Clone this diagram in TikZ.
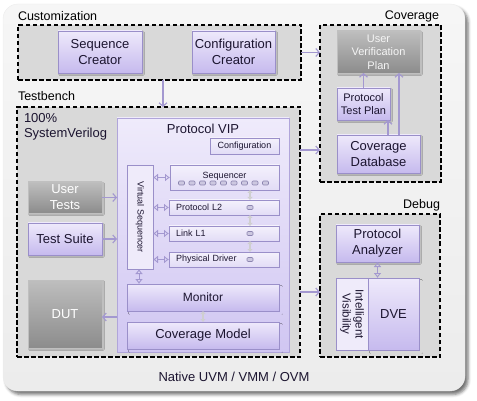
\documentclass[tikz,border=0pt]{standalone}
\usepackage{fontspec}
\setmainfont{Liberation Sans}
\usetikzlibrary{arrows.meta,shadows.blur,calc}
\definecolor{lavtop}{HTML}{EEE9FB}
\definecolor{lavbot}{HTML}{C6BAEE}
\definecolor{lavline}{HTML}{9A8FC9}
\definecolor{laytop}{HTML}{F4F1FC}
\definecolor{laybot}{HTML}{E2DCF6}
\definecolor{viptop}{HTML}{EFEBFB}
\definecolor{vipbot}{HTML}{D0C6F2}
\definecolor{vipline}{HTML}{B0A5DA}
\definecolor{arrcol}{HTML}{A398D0}
\definecolor{dashfill}{HTML}{D9D9D9}
\definecolor{outtop}{HTML}{F6F6F6}
\definecolor{outbot}{HTML}{ECECEC}
\definecolor{graytop}{HTML}{BEBEBE}
\definecolor{graybot}{HTML}{8C8C8C}
\definecolor{txt}{HTML}{1C1530}
\definecolor{sqfill}{HTML}{CCC7E0}
\definecolor{sqline}{HTML}{8C85B0}
\definecolor{litecol}{HTML}{CFCFCF}
\tikzset{
  bx/.style={inner sep=0pt, outer sep=0pt, text=txt},
  dashbox/.style={bx, draw=black, line width=1.6pt, dash pattern=on 4.5pt off 2.5pt, fill=dashfill},
  lavbox/.style={bx, draw=lavline, line width=0.8pt, top color=lavtop, bottom color=lavbot, align=center,
    font=\fontsize{13}{16}\selectfont,
    blur shadow={shadow xshift=1.2pt, shadow yshift=-1.2pt, shadow opacity=25, shadow blur radius=1.2pt}},
  graybox/.style={bx, draw=gray!50, line width=0.8pt, top color=graytop, bottom color=graybot, text=white, align=center,
    font=\fontsize{13}{16}\selectfont,
    blur shadow={shadow xshift=1.2pt, shadow yshift=-1.2pt, shadow opacity=25, shadow blur radius=1.2pt}},
  layer/.style={bx, draw=lavline, line width=0.8pt, top color=laytop, bottom color=laybot, font=\fontsize{9}{11}\selectfont},
  flatbox/.style={bx, draw=lavline, line width=0.8pt, fill=laytop!70!laybot},
  sq/.style={bx, draw=sqline, fill=sqfill, rounded corners=1pt, minimum width=6pt, minimum height=4pt, line width=0.6pt},
  arr/.style={draw=arrcol, line width=1.1pt, -{Straight Barb[length=3.5pt,width=8pt]}},
  dbl/.style={draw=arrcol, line width=0.9pt, {Latex[open,length=5pt,width=8pt]}-{Latex[open,length=5pt,width=8pt]}},
  lite/.style={draw=litecol, line width=2pt, {Latex[length=3pt,width=6pt]}-{Latex[length=3pt,width=6pt]}},
  lbl/.style={bx, font=\fontsize{12.5}{15}\selectfont, text=black},
}
\begin{document}
\begin{tikzpicture}[x=1pt,y=-1pt]
\useasboundingbox (0,0) rectangle (477,401);
% outer panel
\node[bx, rounded corners=15pt, top color=outtop, bottom color=outbot, draw=white!85!gray, line width=0.4pt,
  minimum width=462pt, minimum height=387pt,
  blur shadow={shadow xshift=3pt, shadow yshift=-3.5pt, shadow opacity=55, shadow blur radius=3pt}] (panel) at (234,197.5) {};

% dashed groups
\node[dashbox, minimum width=283pt, minimum height=55pt] (cust) at (159.5,52.5) {};
\node[dashbox, minimum width=283pt, minimum height=250pt] (tb) at (158.5,232) {};
\node[dashbox, minimum width=121pt, minimum height=157pt] (cov) at (380.5,103.5) {};
\node[dashbox, minimum width=120pt, minimum height=143pt] (dbg) at (380,285.5) {};

% group labels
\node[lbl, anchor=base west] (custl) at (18,21) {Customization};
\node[lbl, anchor=base west] (tbl) at (18,101) {Testbench};
\node[lbl, anchor=base east] (covl) at (439,20) {Coverage};
\node[lbl, anchor=base east] (dbgl) at (440,209) {Debug};
\node[lbl, font=\fontsize{13}{15}\selectfont, align=left, anchor=base west, text=txt] (sv) at (24,138) {100\%\\SystemVerilog};
\node[lbl, font=\fontsize{13}{15}\selectfont, anchor=base, text=txt] (nat) at (234,381) {Native UVM / VMM / OVM};

% customization
\node[lavbox, minimum width=84pt, minimum height=42pt] (seqc) at (100,52) {Sequence\\Creator};
\node[lavbox, minimum width=83pt, minimum height=42pt] (cfgc) at (233.5,52) {Configuration\\Creator};

% coverage
\node[graybox, minimum width=83pt, minimum height=42pt, font=\fontsize{11}{13.5}\selectfont, text=white!92!gray] (uvp) at (378.5,52) {User\\Verification\\Plan};
\node[lavbox, minimum width=53pt, minimum height=32pt, font=\fontsize{11}{13}\selectfont] (ptp) at (363.5,104) {Protocol\\Test Plan};
\node[lavbox, minimum width=83pt, minimum height=38pt] (covdb) at (378.5,154) {Coverage\\Database};

% debug
\node[lavbox, minimum width=83pt, minimum height=37pt] (pa) at (377.5,243.5) {Protocol\\Analyzer};
\node[flatbox, rotate=-90, minimum width=72pt, minimum height=32pt, align=center, font=\fontsize{11.5}{13}\selectfont] (iv) at (352,314) {Intelligent\\Visibility};
\node[lavbox, minimum width=51pt, minimum height=72pt, blur shadow={shadow opacity=0}] (dve) at (393.5,314) {DVE};

% testbench left
\node[graybox, minimum width=74pt, minimum height=31pt] (ut) at (65,197.5) {User\\Tests};
\node[lavbox, minimum width=74pt, minimum height=32pt] (ts) at (65,239) {Test Suite};
\node[graybox, minimum width=74pt, minimum height=68pt] (dut) at (65,314) {DUT};

% protocol VIP
\node[bx, draw=vipline, line width=0.8pt, top color=viptop, bottom color=vipbot, minimum width=172pt, minimum height=234pt] (vip) at (203,235) {};
\node[bx, font=\fontsize{13}{15}\selectfont, anchor=base] (vipl) at (203,134) {Protocol VIP};
\node[layer, minimum width=69pt, minimum height=16pt] (cfg) at (244.5,146) {Configuration};
\node[flatbox, rotate=-90, minimum width=104pt, minimum height=26pt, font=\fontsize{9}{11}\selectfont] (vs) at (140,217) {Virtual Sequencer};
\node[layer, minimum width=109pt, minimum height=25pt] (seq) at (224.5,177.5) {};
\node[bx, font=\fontsize{9}{11}\selectfont, anchor=north] (seql) at (224.5,172) {Sequencer};
\node[layer, minimum height=15pt, text width=96pt, align=left, inner xsep=7pt] (l2) at (224,207.5) {Protocol L2};
\node[layer, minimum height=15pt, text width=96pt, align=left, inner xsep=7pt] (l1) at (224,233.5) {Link L1};
\node[layer, minimum height=15pt, text width=96pt, align=left, inner xsep=7pt] (pd) at (224,259.5) {Physical Driver};
\foreach \i in {0,...,8} { \node[sq] (s\i) at (181.5+10.5*\i,183) {}; }
\node[sq] (q2) at (250,207.5) {};
\node[sq] (q1) at (250,233.5) {};
\node[sq] (q0) at (250,259.5) {};
\node[lavbox, minimum width=152pt, minimum height=27pt, font=\fontsize{12}{14}\selectfont, blur shadow={shadow opacity=0}] (mon) at (203,297.5) {Monitor};
\node[lavbox, minimum width=152pt, minimum height=27pt, blur shadow={shadow opacity=0}] (cm) at (203,335.5) {Coverage Model};

% connectors
\draw[arr] ([xshift=3.5pt]cust.south) -- ([xshift=3.5pt]cust.south |- tb.north);
\draw[arr] (cust.east) -- (cov.west |- cust.east);
\draw[arr] ([yshift=4pt]covdb.west -| tb.east) -- ([yshift=4pt]covdb.west -| cov.west);
\draw[arr] ([yshift=-6.5pt]dbg.west -| tb.east) -- ([yshift=-6.5pt]dbg.west);
\draw[arr] (ptp.north) -- (ptp.north |- uvp.south);
\draw[arr] ([xshift=20.5pt]covdb.north) -- ([xshift=20.5pt]covdb.north |- uvp.south);
\draw[arr] ([xshift=-2pt]ptp.south east |- covdb.north) -- ([xshift=-2pt]ptp.south east);
\draw[arr] (ut.east) -- (vip.west |- ut.east);
\draw[arr] (ts.east) -- (vip.west |- ts.east);
\draw[arr] ([yshift=-3pt]vip.west |- dut.east) -- ([yshift=-3pt]dut.east);

\draw[dbl] (vs.north |- seq.west) -- (seq.west);
\draw[dbl] (vs.north |- l2.west) -- (l2.west);
\draw[dbl] (vs.north |- l1.west) -- (l1.west);
\draw[dbl] (vs.north |- pd.west) -- (pd.west);
\draw[dbl] ([yshift=0pt,xshift=-1pt]vs.east) -- ([xshift=-1pt]vs.east |- mon.north);
\draw[dbl] (pa.south) -- (pa.south |- dve.north);

\draw[lite] (seq.south -| q2) -- (l2.north -| q2);
\draw[lite] (l2.south -| q1) -- (l1.north -| q1);
\draw[lite] (l1.south -| q0) -- (pd.north -| q0);
\draw[lite] (mon.south) -- (cm.north);
\end{tikzpicture}
\end{document}
